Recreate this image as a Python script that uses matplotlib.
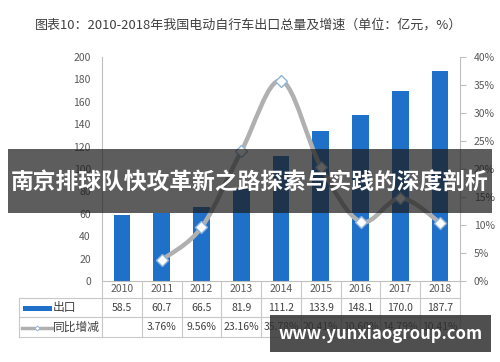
import matplotlib
matplotlib.use("Agg")
import matplotlib.pyplot as plt
from matplotlib.patches import Rectangle, PathPatch
from matplotlib.path import Path
from matplotlib.lines import Line2D
import numpy as np

plt.rcParams['font.family'] = ['Noto Sans CJK SC', 'DejaVu Sans']

years = ['2010', '2011', '2012', '2013', '2014', '2015', '2016', '2017', '2018']
export = [58.5, 60.7, 66.5, 81.9, 111.2, 133.9, 148.1, 170.0, 187.7]
growth = [None, 3.76, 9.56, 23.16, 35.78, 20.41, 10.60, 14.79, 10.41]
left_ticks = [0, 20, 40, 60, 80, 100, 120, 140, 160, 180, 200]
right_ticks = [0, 5, 10, 15, 20, 25, 30, 35, 40]
title = '图表10：2010-2018年我国电动自行车出口总量及增速（单位：亿元，%）'
series_names = ['出口', '同比增减']
banner = '南京排球队快攻革新之路探索与实践的深度剖析'
site = 'www.yunxiaogroup.com'

W, H = 500, 362
fig = plt.figure(figsize=(W / 100, H / 100), dpi=100)

def fx(px):
    return px / W

def fy(py):
    return 1 - py / H

ax_l, ax_r, ax_t, ax_b = 102, 460, 57, 281
ax = fig.add_axes([fx(ax_l), fy(ax_b), fx(ax_r - ax_l), (ax_b - ax_t) / H])
n = len(years)
x = np.arange(n)
bar_color = '#1f70c8'
ax.bar(x, export, width=0.42, color=bar_color, zorder=2)
ax.set_xlim(-0.5, n - 0.5)
ax.set_ylim(0, 200)
ax.set_yticks(left_ticks)
ax.set_xticks([])
for s in ['top', 'right']:
    ax.spines[s].set_visible(False)
ax.spines['left'].set_color('#bfbfbf')
ax.spines['bottom'].set_color('#bfbfbf')
ax.tick_params(axis='y', length=0, labelsize=7.5, colors='#595959', pad=8)
ax.patch.set_alpha(0)

ax2 = ax.twinx()
gx = [i for i, g in enumerate(growth) if g is not None]
gy = [g for g in growth if g is not None]
# smoothed rendering (Catmull-Rom style Bezier through the data points)
pts = list(zip(gx, gy))
verts = [pts[0]]
codes = [Path.MOVETO]
k = 1 / 6
for i in range(len(pts) - 1):
    p0 = pts[i - 1] if i > 0 else pts[i]
    p1 = pts[i]
    p2 = pts[i + 1]
    p3 = pts[i + 2] if i + 2 < len(pts) else pts[i + 1]
    c1 = (p1[0] + (p2[0] - p0[0]) * k, p1[1] + (p2[1] - p0[1]) * k)
    c2 = (p2[0] - (p3[0] - p1[0]) * k, p2[1] - (p3[1] - p1[1]) * k)
    verts += [c1, c2, p2]
    codes += [Path.CURVE4] * 3
ax2.add_patch(PathPatch(Path(verts, codes), fill=False, ec='#b0b0b0', lw=3.2, capstyle='round', zorder=3))
ax2.plot(gx, gy, ls='none', marker='D', ms=6.5, mfc='white', mec='#8fb3d9', mew=1.0, zorder=4)
ax2.set_ylim(0, 40)
ax2.set_yticks(right_ticks)
ax2.set_yticklabels([f'{t}%' for t in right_ticks])
for s in ['top', 'left', 'bottom']:
    ax2.spines[s].set_visible(False)
ax2.spines['right'].set_color('#bfbfbf')
ax2.tick_params(axis='y', length=4, direction='out', color='#bfbfbf', labelsize=7.5, colors='#595959', pad=6)

# title
fig.text(fx(35), fy(25), title, fontsize=9.4, color='#404040', va='center', ha='left')

# table
lc = '#c8c8c8'
tab_left = 19
col_edges = [ax_l + (ax_r - ax_l) * i / n for i in range(n + 1)]
def hline(y, x0, x1):
    fig.add_artist(Line2D([fx(x0), fx(x1)], [fy(y), fy(y)], color=lc, lw=0.8))
def vline(xp, y0, y1):
    fig.add_artist(Line2D([fx(xp), fx(xp)], [fy(y0), fy(y1)], color=lc, lw=0.8))
hline(298, tab_left, ax_r)
hline(317, tab_left, ax_r)
hline(337, tab_left, ax_r)
vline(tab_left, 298, 337)
for ce in col_edges:
    vline(ce, 281, 337)

tc = '#404040'
for i in range(n):
    cx = (col_edges[i] + col_edges[i + 1]) / 2
    fig.text(fx(cx), fy(289.5), years[i], fontsize=7.5, color='#595959', ha='center', va='center')
    fig.text(fx(cx), fy(308), f'{export[i]:.1f}', fontsize=7.5, color=tc, ha='center', va='center')
    if growth[i] is not None:
        fig.text(fx(cx), fy(327.5), f'{growth[i]:.2f}%', fontsize=7.5, color=tc, ha='center', va='center')

# legend keys in table
fig.add_artist(Rectangle((fx(23), fy(311)), fx(29), 5 / H, color=bar_color, lw=0))
fig.text(fx(53), fy(308), series_names[0], fontsize=8.5, color=tc, ha='left', va='center')
fig.add_artist(Line2D([fx(22), fx(52)], [fy(327.5), fy(327.5)], color='#b0b0b0', lw=2.5))
fig.add_artist(Line2D([fx(37)], [fy(327.5)], marker='D', ms=2.5, mfc='white', mec='#8fb3d9', mew=0.6))
fig.text(fx(53), fy(327.5), series_names[1], fontsize=8.5, color=tc, ha='left', va='center')

# banner overlay
fig.add_artist(Rectangle((fx(8), fy(213)), fx(484), 64 / H, color='#1e1e1e', alpha=0.72, lw=0, zorder=10))
fig.text(0.5, fy(183), banner, fontsize=16.4, color='white', weight='bold', ha='center', va='center', zorder=11)

# site overlay
fig.add_artist(Rectangle((fx(270), fy(352)), fx(221), 37 / H, color='#303030', alpha=0.85, lw=0, zorder=10))
fig.text(fx(380.5), fy(334), site, fontsize=12, color='white', weight='bold', ha='center', va='center', zorder=11)

fig.savefig('out.png', dpi=100)
